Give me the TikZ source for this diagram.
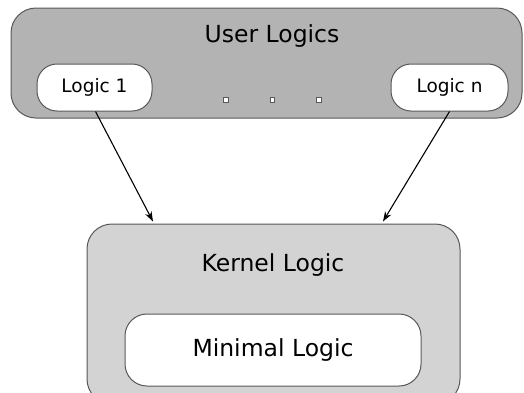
\documentclass[tikz,border=0pt]{standalone}
\usepackage{fontspec}
\setmainfont{DejaVu Sans}
\usetikzlibrary{arrows.meta}
\definecolor{bordergray}{HTML}{585858}
\definecolor{usergray}{HTML}{B3B3B3}
\definecolor{kernelgray}{HTML}{D3D3D3}
\begin{document}
\begin{tikzpicture}[x=1pt,y=-1pt,
  bigbox/.style={draw=bordergray, line width=1pt, rounded corners=25pt, inner sep=0pt},
  pill/.style={draw=bordergray, line width=1pt, fill=white, rounded corners=20pt, inner sep=0pt, font=\fontsize{18.5}{20}\selectfont},
  bigtext/.style={font=\fontsize{23.5}{26}\selectfont, inner sep=0pt},
  dotbox/.style={draw=bordergray, line width=1pt, fill=white, minimum width=4.5pt, minimum height=5.5pt, inner sep=0pt},
  link/.style={-{Stealth[length=10pt,width=7pt]}, line width=1.1pt, black}]
\useasboundingbox (0,0) rectangle (524,392);
\clip (0,0) rectangle (524,392);
\fill[white] (0,0) rectangle (524,392);
% User logics
\node[bigbox, fill=usergray, minimum width=511pt, minimum height=110pt] (user) at (266.5,63) {};
\node[bigtext] (usert) at (272,36) {User Logics};
\node[pill, minimum width=115pt, minimum height=47pt] (l1) at (94.5,87.5) {Logic 1};
\node[pill, minimum width=117pt, minimum height=47pt] (ln) at (449.5,87.5) {Logic n};
\node[dotbox] (d1) at (226,100) {};
\node[dotbox] (d2) at (272.5,100) {};
\node[dotbox] (d3) at (319,100) {};
% Kernel
\node[bigbox, fill=kernelgray, minimum width=373pt, minimum height=180pt] (k) at (273.5,314) {};
\node[bigtext] (kt) at (273,265) {Kernel Logic};
\node[pill, rounded corners=22pt, minimum width=296pt, minimum height=72pt, font=\fontsize{23.5}{26}\selectfont] (m) at (273,350) {Minimal Logic};
% arrows
\coordinate (a1) at ([xshift=-120.5pt,yshift=2pt]k.north);
\coordinate (a2) at ([xshift=109.5pt,yshift=2pt]k.north);
\draw[link] ([xshift=1pt]l1.south) -- (a1);
\draw[link] (ln.south) -- (a2);
\end{tikzpicture}
\end{document}
